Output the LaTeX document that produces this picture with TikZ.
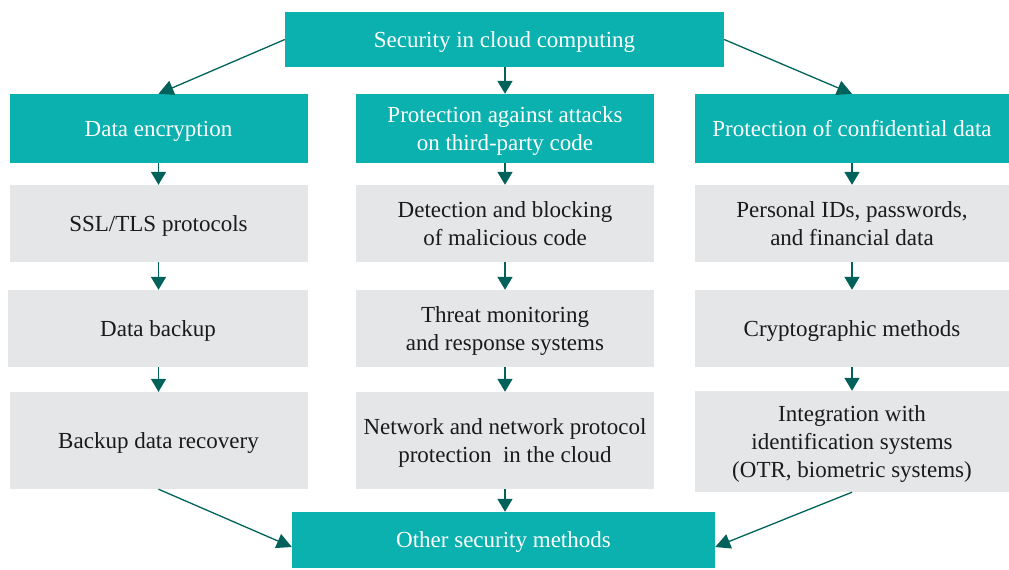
\documentclass[tikz,border=0pt]{standalone}
\usepackage{fontspec}
\setmainfont{Liberation Serif}
\usetikzlibrary{arrows.meta}
\definecolor{tealbox}{HTML}{0AB1AF}
\definecolor{graybox}{HTML}{E5E6E8}
\definecolor{arrowc}{HTML}{00625A}
\definecolor{inkc}{HTML}{1A1A1A}
\tikzset{
  headbox/.style={fill=tealbox, text=white, inner sep=0pt, align=center,
    text depth=0pt, font=\fontsize{23}{28}\selectfont},
  itembox/.style={fill=graybox, text=inkc, inner sep=0pt, align=center,
    text depth=0pt, font=\fontsize{23}{28}\selectfont},
  flow/.style={draw=arrowc, line width=1.8pt, -{Triangle[width=15pt,length=13pt]}},
  slant/.style={draw=arrowc, line width=1.3pt, -{Triangle[width=15pt,length=15pt]}},
}
\begin{document}
\begin{tikzpicture}[x=1pt, y=-1pt]
\useasboundingbox (0,0) rectangle (1009,570);

% top level
\node[headbox, minimum width=439pt, minimum height=55pt] (top) at (504.5,39.5)
  {Security in cloud computing};

% three branches
\node[headbox, minimum width=298pt, minimum height=69pt] (enc) at (158.5,128.5)
  {Data encryption};
\node[headbox, minimum width=298pt, minimum height=69pt] (att) at (505,128.5)
  {Protection against attacks\\on third-party code};
\node[headbox, minimum width=314pt, minimum height=69pt] (conf) at (852,128.5)
  {Protection of confidential data};

% data encryption column
\node[itembox, minimum width=298pt, minimum height=77pt] (ssl) at (158.5,223.5)
  {SSL/TLS protocols};
\node[itembox, minimum width=300pt, minimum height=77pt] (bak) at (158,328.5)
  {Data backup};
\node[itembox, minimum width=298pt, minimum height=97pt] (rec) at (158.5,440.5)
  {Backup data recovery};

% third-party code column
\node[itembox, minimum width=298pt, minimum height=77pt] (det) at (505,223.5)
  {Detection and blocking\\of malicious code};
\node[itembox, minimum width=298pt, minimum height=77pt] (thr) at (505,328.5)
  {Threat monitoring\\and response systems};
\node[itembox, minimum width=298pt, minimum height=97pt] (net) at (505,440.5)
  {Network and network protocol\\protection~ in the cloud};

% confidential data column
\node[itembox, minimum width=314pt, minimum height=77pt] (ids) at (852,223.5)
  {Personal IDs, passwords,\\and financial data};
\node[itembox, minimum width=314pt, minimum height=77pt] (cry) at (852,328.5)
  {Cryptographic methods};
\node[itembox, minimum width=314pt, minimum height=101pt] (idn) at (852,441.5)
  {Integration with\\identification systems\\(OTR, biometric systems)};

% bottom
\node[headbox, minimum width=423pt, minimum height=56pt] (oth) at (503.5,540)
  {Other security methods};

% connectors
\draw[slant] (top.west) -- (enc.north);
\draw[flow] (top.south -| att.north) -- (att.north);
\draw[slant] (top.east) -- (conf.north);

\draw[flow] (enc.south) -- (ssl.north);
\draw[flow] (ssl.south) -- (ssl.south |- bak.north);
\draw[flow] (ssl.south |- bak.south) -- (ssl.south |- rec.north);

\draw[flow] (att.south) -- (det.north);
\draw[flow] (det.south) -- (thr.north);
\draw[flow] (thr.south) -- (net.north);
\draw[flow] (net.south) -- (net.south |- oth.north);

\draw[flow] (conf.south) -- (ids.north);
\draw[flow] (ids.south) -- (cry.north);
\draw[flow] (cry.south) -- (idn.north);

\draw[slant] (rec.south) -- ([yshift=-7pt]oth.west);
\draw[slant] (idn.south) -- ([yshift=-7pt]oth.east);
\end{tikzpicture}
\end{document}
